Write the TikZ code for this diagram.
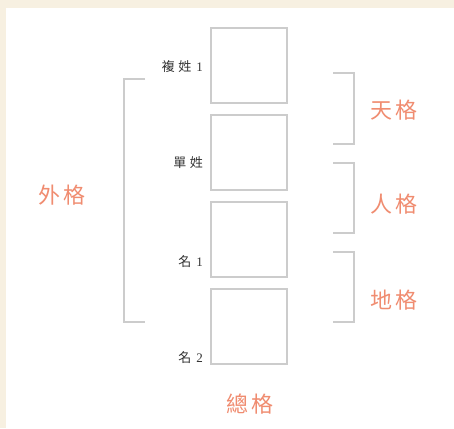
\documentclass[tikz,border=0pt]{standalone}
\usepackage{fontspec}
\newfontfamily\cjk{Noto Sans CJK TC}
\newfontfamily\digits{Liberation Serif}
\definecolor{bgbeige}{HTML}{F7F0E1}
\definecolor{linegray}{HTML}{CCCCCC}
\definecolor{labelorange}{HTML}{F08C70}
\definecolor{textdark}{HTML}{333333}
\newcommand{\gapS}{\hspace{3.5pt}}
\newcommand{\gapD}{\hspace{5pt}}
\newcommand{\gapB}{\hspace{4pt}}
\tikzset{
  cell/.style={draw=linegray, line width=2.2pt, minimum width=76pt, minimum height=75pt, inner sep=0pt, outer sep=0pt},
  bracket/.style={draw=linegray, line width=2.2pt},
  biglabel/.style={text=labelorange, font=\cjk\fontsize{22}{24}\selectfont, inner sep=0pt},
  smalllabel/.style={text=textdark, font=\cjk\fontsize{13}{15}\selectfont, inner sep=0pt, anchor=east}
}
\begin{document}
\begin{tikzpicture}[x=1pt,y=-1pt]
  \fill[bgbeige] (0,0) rectangle (454,428);
  \fill[white] (6,8) rectangle (454,428);
  \useasboundingbox (0,0) rectangle (454,428);
  % boxes
  \node[cell] (b1) at (249,65.5) {};
  \node[cell] (b2) at (249,152.5) {};
  \node[cell] (b3) at (249,239.5) {};
  \node[cell] (b4) at (249,326.5) {};
  % small labels
  \node[smalllabel] (l1) at (203,67) {複\gapS 姓\gapD{\digits 1}};
  \node[smalllabel] (l2) at (203,163) {單\gapS 姓};
  \node[smalllabel] (l3) at (203,262) {名\gapD{\digits 1}};
  \node[smalllabel] (l4) at (203,358) {名\gapD{\digits 2}};
  % left bracket
  \draw[bracket] (145,79) -- (124,79) -- (124,322) -- (145,322);
  % right brackets
  \draw[bracket] (333,73) -- (354,73) -- (354,144) -- (333,144);
  \draw[bracket] (333,163) -- (354,163) -- (354,233) -- (333,233);
  \draw[bracket] (333,252) -- (354,252) -- (354,322) -- (333,322);
  % big labels
  \node[biglabel] (outer) at (62,195) {外\gapB 格};
  \node[biglabel] (heaven) at (394,110) {天\gapB 格};
  \node[biglabel] (person) at (394,204) {人\gapB 格};
  \node[biglabel] (earth) at (394,300) {地\gapB 格};
  \node[biglabel] (total) at (250,404) {總\gapB 格};
\end{tikzpicture}
\end{document}
